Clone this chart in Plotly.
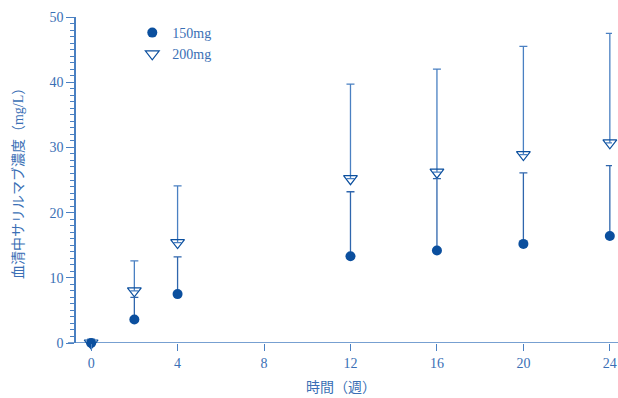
import plotly.graph_objects as go

weeks = [0, 2, 4, 12, 16, 20, 24]
mean_150 = [0.0, 3.6, 7.5, 13.3, 14.2, 15.2, 16.4]
upper_150 = [0.3, 7.0, 13.2, 23.2, 25.2, 26.1, 27.2]
mean_200 = [0.0, 8.0, 15.4, 25.2, 26.2, 28.9, 30.7]
upper_200 = [0.6, 12.6, 24.1, 39.7, 42.0, 45.5, 47.5]
x_ticks = [0, 4, 8, 12, 16, 20, 24]
y_ticks = [0, 10, 20, 30, 40, 50]
x_title = "時間（週）"
y_title = "血清中サリルマブ濃度（mg/L）"

dark = "#0b4f9e"
axis_c = "#4a80c2"
text_c = "#3a6fb5"
font_fam = "Liberation Serif, Noto Sans CJK JP, serif"

fig = go.Figure()
fig.add_trace(go.Scatter(
    x=weeks, y=mean_200, mode="markers", name="200mg",
    marker=dict(symbol="triangle-down-open", size=12, color=dark, line=dict(width=1.2, color=dark)),
    error_y=dict(type="data", symmetric=False,
                 array=[u - m for u, m in zip(upper_200, mean_200)],
                 arrayminus=[0] * len(weeks), color=axis_c, thickness=1.3, width=4),
    cliponaxis=False,
))
fig.add_trace(go.Scatter(
    x=weeks, y=mean_150, mode="markers", name="150mg",
    marker=dict(symbol="circle", size=10, color=dark),
    error_y=dict(type="data", symmetric=False,
                 array=[u - m for u, m in zip(upper_150, mean_150)],
                 arrayminus=[0] * len(weeks), color="#2f66ad", thickness=1.3, width=4),
    cliponaxis=False,
))

fig.update_layout(
    width=618, height=398,
    margin=dict(l=76, r=6, t=17, b=55, autoexpand=False),
    paper_bgcolor="white", plot_bgcolor="white",
    font=dict(family=font_fam, size=14, color=text_c),
    showlegend=True,
    legend=dict(x=0.105, y=1.0, xanchor="left", yanchor="top", traceorder="reversed",
                bgcolor="rgba(0,0,0,0)", font=dict(size=14, color=text_c),
                itemwidth=30, tracegroupgap=0),
    xaxis=dict(range=[-0.7, 24.1], tickvals=x_ticks, showgrid=False, zeroline=False,
               showline=False, ticks="outside", ticklen=7, tickcolor=axis_c, tickwidth=1.2,
               tickfont=dict(size=14, color=text_c), automargin=False),
    yaxis=dict(range=[0, 50], tickvals=y_ticks, showgrid=False, zeroline=False,
               showline=True, linecolor=axis_c, linewidth=1.5,
               ticks="outside", ticklen=8, tickcolor=axis_c, tickwidth=1.2,
               minor=dict(dtick=1, ticks="outside", ticklen=4, tickcolor=axis_c, tickwidth=1),
               tickfont=dict(size=14, color=text_c), automargin=False),
)

fig.add_annotation(text=x_title, xref="paper", yref="paper", x=0.495, y=-0.138,
                   xanchor="center", yanchor="middle", showarrow=False,
                   font=dict(size=14, color=text_c))
fig.add_annotation(text=y_title, xref="paper", yref="paper", x=-0.108, y=0.5,
                   xanchor="center", yanchor="middle", showarrow=False, textangle=-90,
                   font=dict(size=14, color=text_c))

fig.add_shape(type="line", xref="paper", yref="y", x0=-0.015, x1=1.012, y0=0, y1=0,
              line=dict(color=axis_c, width=1.5), layer="below")

fig.write_html("out.html", config={"displayModeBar": False},
               post_script="document.body.style.margin='0';document.body.style.overflow='hidden';")
